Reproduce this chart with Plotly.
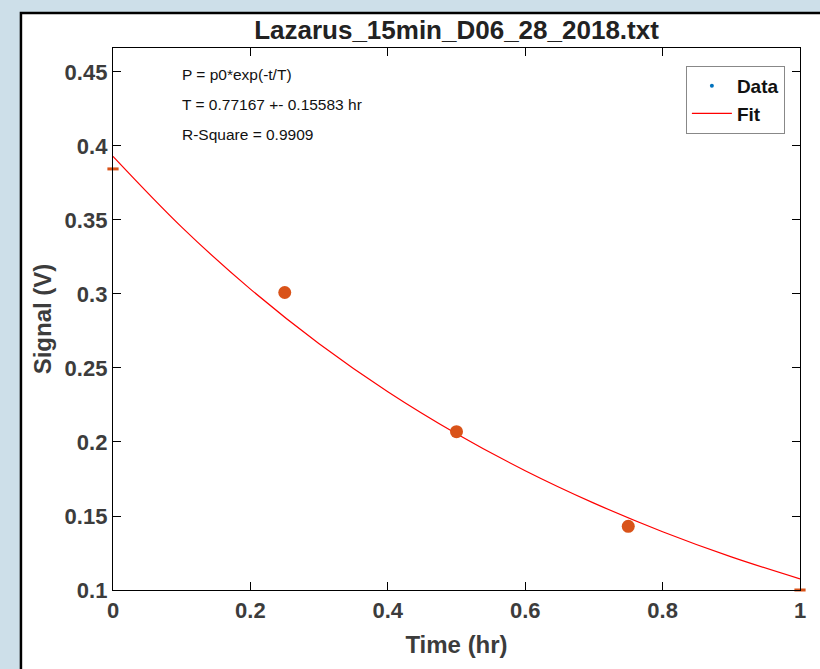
import plotly.graph_objects as go

# Data
time_hr = [0.25, 0.5, 0.75]
signal_v = [0.301, 0.207, 0.143]
edge_time = [0.0, 1.0]
edge_signal = [0.3845, 0.1]

fit_time = [0.0, 0.1, 0.2, 0.3, 0.4, 0.5, 0.6, 0.7, 0.8, 0.9, 1.0]
fit_signal = [0.393, 0.3452, 0.3033, 0.2664, 0.2340, 0.2056, 0.1806, 0.1587, 0.1394, 0.1224, 0.1075]

x_ticks = [0, 0.2, 0.4, 0.6, 0.8, 1]
x_tick_labels = ["0", "0.2", "0.4", "0.6", "0.8", "1"]
y_ticks = [0.1, 0.15, 0.2, 0.25, 0.3, 0.35, 0.4, 0.45]
y_tick_labels = ["0.1", "0.15", "0.2", "0.25", "0.3", "0.35", "0.4", "0.45"]

notes = ["P = p0*exp(-t/T)", "T = 0.77167 +- 0.15583 hr", "R-Square = 0.9909"]
note_y = [0.4485, 0.428, 0.408]

ORANGE = "#d95319"
BLUE = "#0072bd"
FONT = "Liberation Sans"
BG = "#cddfe9"

fig = go.Figure()

fig.add_trace(go.Scatter(
    x=fit_time, y=fit_signal, mode="lines", line=dict(color="#ff0000", width=1.2, shape="spline"),
    name="Fit", showlegend=False, cliponaxis=False))
fig.add_trace(go.Scatter(
    x=time_hr, y=signal_v, mode="markers", marker=dict(color=ORANGE, size=13),
    showlegend=False))
fig.add_trace(go.Scatter(
    x=edge_time, y=edge_signal, mode="markers", cliponaxis=False,
    marker=dict(symbol="line-ew", size=8, line=dict(color=ORANGE, width=3)),
    showlegend=False))
# legend entries
fig.add_trace(go.Scatter(x=[None], y=[None], mode="markers", name="Data",
                         marker=dict(color=BLUE, size=4)))
fig.add_trace(go.Scatter(x=[None], y=[None], mode="lines", name="Fit",
                         line=dict(color="#ff0000", width=1.2)))

for txt, yy in zip(notes, note_y):
    fig.add_annotation(x=0.098, y=yy, xref="x", yref="y", text=txt, showarrow=False,
                       xanchor="left", yanchor="middle",
                       font=dict(family=FONT, size=15.5, color="#111111"))

# white figure panel with black border on the background
fig.add_shape(type="rect", xref="paper", yref="paper", x0=-0.134, x1=1.05, y0=-0.2, y1=1.0646,
              fillcolor="white", line=dict(color="black", width=2.5), layer="below")

axis_common = dict(
    showgrid=False, zeroline=False, showline=True, linecolor="black", linewidth=1.3,
    mirror="ticks", ticks="inside", ticklen=8, tickwidth=1.3, tickcolor="black",
    tickfont=dict(family=FONT, size=22, color="#3c3c3c", weight="bold"),
)

fig.update_layout(
    width=820, height=669,
    margin=dict(l=113, r=20, t=48, b=79),
    paper_bgcolor=BG, plot_bgcolor="white",
    title=dict(text="<b>Lazarus_15min_D06_28_2018.txt</b>", x=0.5, xref="paper", xanchor="center",
               y=1 - 30 / 669, yanchor="middle",
               font=dict(family=FONT, size=26, color="#222222")),
    xaxis=dict(range=[0, 1], tickvals=x_ticks, ticktext=x_tick_labels,
               title=dict(text="<b>Time (hr)</b>", standoff=14,
                          font=dict(family=FONT, size=24, color="#3c3c3c")), **axis_common),
    yaxis=dict(range=[0.1, 0.4662], tickvals=y_ticks, ticktext=y_tick_labels,
               title=dict(text="<b>Signal (V)</b>", standoff=6,
                          font=dict(family=FONT, size=24, color="#3c3c3c")), **axis_common),
    legend=dict(x=0.978, y=0.967, xanchor="right", yanchor="top", bgcolor="white",
                bordercolor="#888888", borderwidth=1,
                font=dict(family=FONT, size=19, color="#111111", weight="bold"),
                tracegroupgap=0, itemwidth=40),
    showlegend=True,
)

fig.write_html("out.html", config={"displayModeBar": False},
               post_script="document.body.style.margin='0';document.body.style.background='%s';" % BG)
